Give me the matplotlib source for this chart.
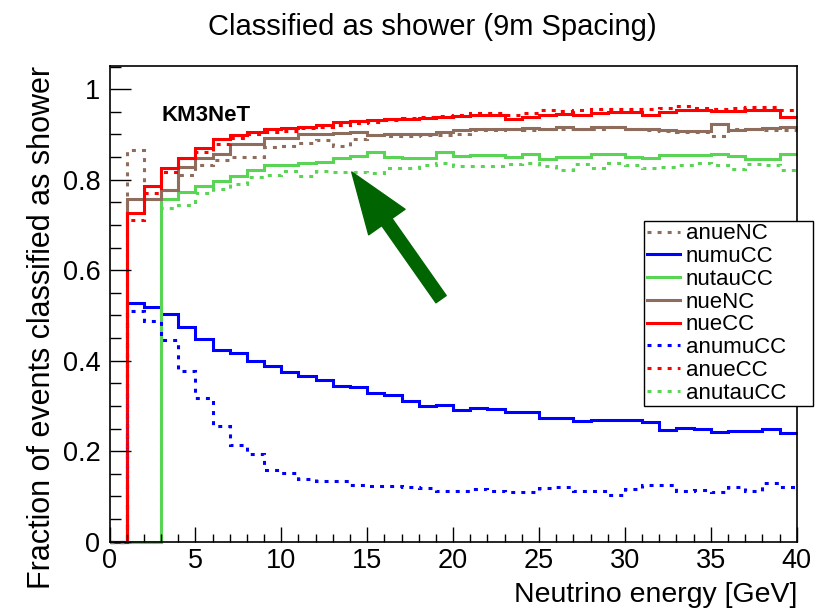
import numpy as np
import matplotlib
matplotlib.use('Agg')
import matplotlib.pyplot as plt
from matplotlib.ticker import MultipleLocator, FuncFormatter

plt.rcParams['font.family'] = ['Liberation Sans', 'DejaVu Sans']

# energy bins, 1 GeV wide
edges = np.arange(0, 41, 1)

# fraction classified as shower per bin (0-40 GeV)
nueCC = [0, 0.726, 0.787, 0.827, 0.849, 0.871, 0.889, 0.899, 0.906, 0.912,
         0.914, 0.917, 0.922, 0.927, 0.930, 0.932, 0.934, 0.935, 0.937, 0.939,
         0.941, 0.943, 0.943, 0.935, 0.939, 0.943, 0.946, 0.942, 0.948, 0.950,
         0.950, 0.944, 0.950, 0.953, 0.953, 0.951, 0.952, 0.953, 0.953, 0.939]
anueCC = [0, 0.711, 0.770, 0.816, 0.849, 0.861, 0.878, 0.893, 0.902, 0.905,
          0.908, 0.914, 0.917, 0.920, 0.925, 0.928, 0.932, 0.937, 0.939, 0.941,
          0.943, 0.947, 0.947, 0.944, 0.947, 0.954, 0.951, 0.955, 0.957, 0.957,
          0.957, 0.957, 0.958, 0.963, 0.958, 0.957, 0.958, 0.960, 0.960, 0.955]
nueNC = [0, 0.757, 0.757, 0.777, 0.829, 0.847, 0.857, 0.878, 0.878, 0.892,
         0.892, 0.900, 0.900, 0.904, 0.905, 0.899, 0.900, 0.900, 0.902, 0.905,
         0.910, 0.913, 0.911, 0.913, 0.914, 0.913, 0.916, 0.913, 0.917, 0.917,
         0.913, 0.913, 0.910, 0.908, 0.907, 0.923, 0.910, 0.911, 0.915, 0.917]
anueNC = [0, 0.866, 0.757, 0.777, 0.810, 0.832, 0.843, 0.851, 0.851, 0.873,
          0.874, 0.882, 0.888, 0.875, 0.890, 0.899, 0.896, 0.896, 0.899, 0.899,
          0.902, 0.910, 0.910, 0.911, 0.910, 0.913, 0.911, 0.911, 0.913, 0.917,
          0.911, 0.910, 0.908, 0.905, 0.905, 0.896, 0.913, 0.913, 0.910, 0.910]
nutauCC = [0, 0, 0, 0.757, 0.773, 0.787, 0.797, 0.809, 0.821, 0.832,
           0.832, 0.836, 0.840, 0.847, 0.852, 0.861, 0.851, 0.848, 0.848, 0.861,
           0.853, 0.854, 0.854, 0.851, 0.856, 0.846, 0.851, 0.851, 0.856, 0.856,
           0.851, 0.849, 0.854, 0.854, 0.854, 0.856, 0.853, 0.845, 0.845, 0.856]
anutauCC = [0, 0, 0, 0.737, 0.744, 0.770, 0.779, 0.790, 0.807, 0.810,
            0.819, 0.809, 0.819, 0.818, 0.817, 0.815, 0.826, 0.826, 0.832, 0.836,
            0.831, 0.830, 0.830, 0.834, 0.836, 0.831, 0.821, 0.835, 0.825, 0.838,
            0.832, 0.826, 0.829, 0.832, 0.836, 0.832, 0.824, 0.834, 0.832, 0.821]
numuCC = [0, 0.527, 0.519, 0.503, 0.474, 0.448, 0.424, 0.416, 0.400, 0.388,
          0.376, 0.366, 0.357, 0.344, 0.342, 0.329, 0.324, 0.311, 0.299, 0.303,
          0.291, 0.295, 0.294, 0.286, 0.286, 0.274, 0.273, 0.266, 0.268, 0.268,
          0.268, 0.264, 0.247, 0.251, 0.248, 0.242, 0.244, 0.245, 0.248, 0.240]
anumuCC = [0, 0.510, 0.488, 0.446, 0.378, 0.317, 0.256, 0.213, 0.194, 0.158,
           0.152, 0.139, 0.134, 0.134, 0.125, 0.124, 0.124, 0.120, 0.119, 0.112,
           0.112, 0.116, 0.112, 0.109, 0.109, 0.118, 0.120, 0.112, 0.113, 0.104,
           0.116, 0.125, 0.125, 0.112, 0.115, 0.109, 0.121, 0.112, 0.130, 0.121]

red = '#ff0000'
blue = '#0000ff'
green = '#59d454'
brown = '#8f6d5d'
dotted = (0, (1.3, 2.0))

# drawing / legend order
series = [
    ('anueNC', anueNC, brown, dotted),
    ('numuCC', numuCC, blue, '-'),
    ('nutauCC', nutauCC, green, '-'),
    ('nueNC', nueNC, brown, '-'),
    ('nueCC', nueCC, red, '-'),
    ('anumuCC', anumuCC, blue, dotted),
    ('anueCC', anueCC, red, dotted),
    ('anutauCC', anutauCC, green, dotted),
]

fig = plt.figure(figsize=(8.18, 6.10), dpi=100)
ax = fig.add_axes([109.5 / 818, 1 - 541.7 / 610, (796.7 - 109.5) / 818, (541.7 - 65.7) / 610])

handles = []
for name, vals, col, ls in series:
    h = ax.stairs(vals, edges, baseline=None, color=col, linestyle=ls,
                  linewidth=2.2, label=name, clip_on=False)
    h.set_capstyle('butt')
    handles.append(h)

ax.set_xlim(0, 40)
ax.set_ylim(0, 1.052)

ax.xaxis.set_major_locator(MultipleLocator(5))
ax.xaxis.set_minor_locator(MultipleLocator(1))
ax.yaxis.set_major_locator(MultipleLocator(0.2))
ax.yaxis.set_minor_locator(MultipleLocator(0.05))
ax.yaxis.set_major_formatter(FuncFormatter(lambda v, p: '%g' % round(v, 2)))
ax.tick_params(which='both', direction='in', top=False, right=False, width=1, labelsize=19.5)
ax.tick_params(axis='x', which='major', length=11, pad=4.5)
ax.tick_params(axis='x', which='minor', length=5.5)
ax.tick_params(axis='y', which='major', length=15, pad=6.5)
ax.tick_params(axis='y', which='minor', length=8)
for s in ax.spines.values():
    s.set_linewidth(1.2)

ax.text(5.62, 0.943, 'KM3NeT', fontsize=16, fontweight='bold', ha='center', va='center')

# arrow pointing at the anti-tau curve
ax.annotate('', xy=(14.1, 0.817), xytext=(19.3, 0.536),
            arrowprops=dict(arrowstyle='simple,head_length=2.2,head_width=1.6,tail_width=0.45',
                            color='#006400', shrinkA=0, shrinkB=0, mutation_scale=20))

fig.text(432.5 / 818, 1 - 27 / 610, 'Classified as shower (9m Spacing)', fontsize=21,
         ha='center', va='center')
fig.text(797 / 818, 1 - 595 / 610, 'Neutrino energy [GeV]', fontsize=20.5,
         ha='right', va='center')
fig.text(42 / 818, 1 - 66 / 610, 'Fraction of events classified as shower', fontsize=22,
         rotation=90, ha='center', va='top')

# legend box spans x 644-813 px, y 221-405 px
leg = fig.legend(handles=handles, loc='upper left', mode='expand',
                 bbox_to_anchor=(644 / 818, 1 - 405 / 610, (813 - 644) / 818, (405 - 220.7) / 610),
                 fontsize=16, frameon=True, fancybox=False, framealpha=1, edgecolor='black',
                 handlelength=1.5, handletextpad=0.27, borderpad=0.12, borderaxespad=0,
                 labelspacing=0.08)
leg.get_frame().set_linewidth(1.0)

fig.savefig('out.png', dpi=100)
